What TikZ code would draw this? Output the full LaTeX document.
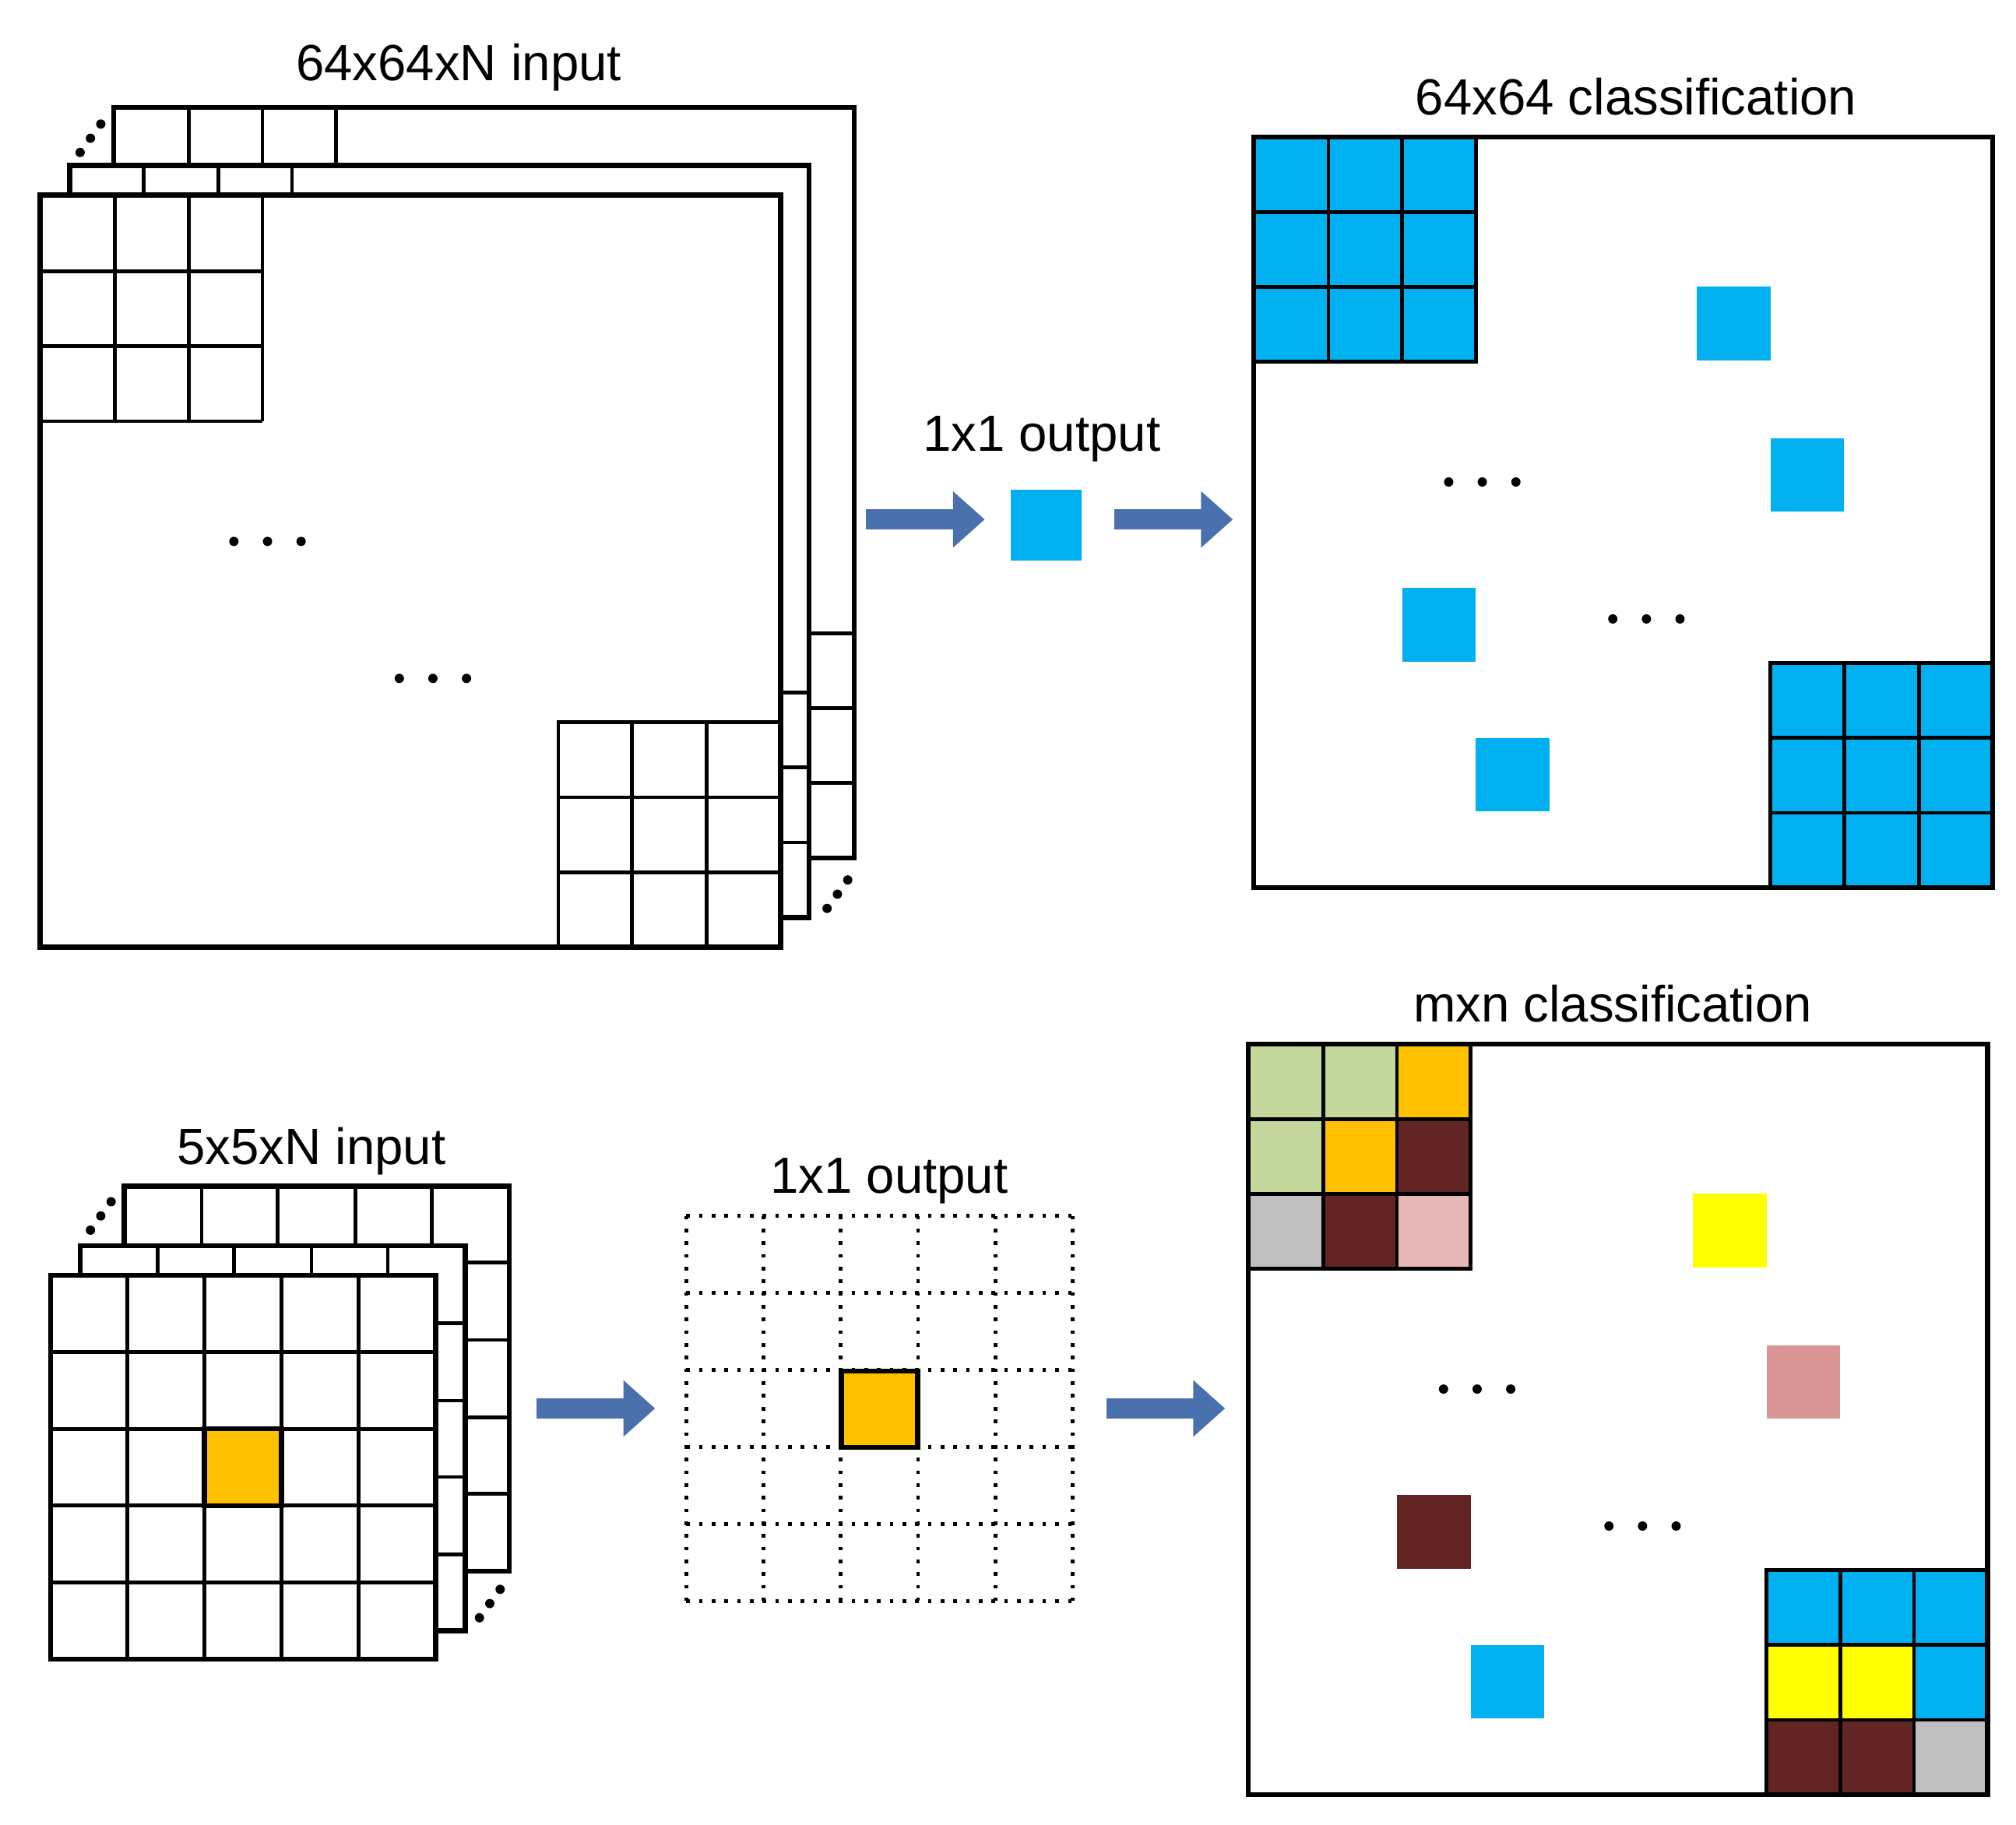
\documentclass[tikz,border=0pt]{standalone}
\usepackage{fontspec}
\setmainfont{Liberation Sans}
\usetikzlibrary{arrows.meta}
\definecolor{cyanbox}{HTML}{00B0F0}
\definecolor{orangebox}{HTML}{FFC000}
\definecolor{greenbox}{HTML}{C3D69B}
\definecolor{brownbox}{HTML}{632523}
\definecolor{graybox}{HTML}{BFBFBF}
\definecolor{pinkbox}{HTML}{E6B9B8}
\definecolor{rosebox}{HTML}{D99694}
\definecolor{yellowbox}{HTML}{FFFF00}
\definecolor{arrowblue}{HTML}{4A70AE}
\tikzset{
  sheet/.style={draw=black, fill=white, line width=1.1pt},
  cell/.style={draw=black, line width=0.8pt},
  dotcell/.style={draw=black, line width=0.8pt, dotted},
  fatarrow/.style={draw=arrowblue, line width=4.5pt, -{Triangle[length=7pt,width=12pt]}},
  lbl/.style={font=\fontsize{11.2}{13}\selectfont, inner sep=0pt}
}
% three dots, horizontal or diagonal
\newcommand{\rowdots}[2]{\foreach \k in {-1,0,1} \fill (#1+\k*26,#2) circle (3.6);}
\newcommand{\slantdots}[2]{\foreach \k in {-1,0,1} \fill (#1+\k*8,#2-\k*11) circle (3.6);}
% a filled cell: x, y, size, colour
\newcommand{\pix}[4]{\fill[#4] (#1,#2) rectangle ++(#3,#3);}
\begin{document}
\begin{tikzpicture}[x=0.01cm,y=-0.01cm]
\useasboundingbox (0,0) rectangle (1560,1412);

%% top left: 64x64xN input
\draw[sheet] (88,83) rectangle (661,664);
\foreach \x in {146,203,260} \draw[cell] (\x,83) -- (\x,128);
\foreach \y in {490,548,606} \draw[cell] (626,\y) -- (661,\y);
\draw[sheet] (54,128) rectangle (626,710);
\foreach \x in {111,169,226} \draw[cell] (\x,128) -- (\x,151);
\foreach \y in {536,594,652} \draw[cell] (604,\y) -- (626,\y);
\draw[sheet] (31,151) rectangle (604,733);
\draw[cell] (31,210) -- (203,210) (31,268) -- (203,268) (31,326) -- (203,326);
\foreach \x in {89,146,203} \draw[cell] (\x,151) -- (\x,326);
\draw[cell] (432,559) rectangle (604,733);
\foreach \x in {489,547} \draw[cell] (\x,559) -- (\x,733);
\foreach \y in {617,675} \draw[cell] (432,\y) -- (604,\y);
\slantdots{70}{107}
\slantdots{648}{692}
\rowdots{207}{419}
\rowdots{335}{525}
\node[lbl] (inA) at (355,52) {64x64xN input};

%% top middle: 1x1 output
\coordinate (a1s) at (670,402);
\coordinate (a1e) at (762,402);
\draw[fatarrow] (a1s) -- (a1e);
\pix{782}{379}{55}{cyanbox}
\node[lbl] (outA) at (806,340) {1x1 output};
\coordinate (a2s) at (862,402);
\coordinate (a2e) at (954,402);
\draw[fatarrow] (a2s) -- (a2e);

%% top right: 64x64 classification
\foreach \i in {0,1,2} \foreach \j in {0,1,2} {
  \pix{970+\i*57.3}{106+\j*58}{57.3}{cyanbox}
  \pix{1370+\i*57.3}{513+\j*58}{57.3}{cyanbox}
}
\draw[cell] (970,106) rectangle (1142,280);
\foreach \x in {1028,1085} \draw[cell] (\x,106) -- (\x,280);
\foreach \y in {164,222} \draw[cell] (970,\y) -- (1142,\y);
\draw[cell] (1370,513) rectangle (1542,687);
\foreach \x in {1427,1485} \draw[cell] (\x,513) -- (\x,687);
\foreach \y in {571,629} \draw[cell] (1370,\y) -- (1542,\y);
\pix{1313}{222}{57}{cyanbox}
\pix{1370}{339}{57}{cyanbox}
\pix{1085}{455}{57}{cyanbox}
\pix{1142}{571}{57}{cyanbox}
\draw[sheet, fill=none] (970,106) rectangle (1542,687);
\rowdots{1147}{373}
\rowdots{1274}{479}
\node[lbl] (clsA) at (1266,75) {64x64 classification};

%% bottom left: 5x5xN input
\draw[sheet] (96,918) rectangle (394,1216);
\foreach \x in {156,215,275,334} \draw[cell] (\x,918) -- (\x,964);
\foreach \y in {977,1037,1097,1156} \draw[cell] (360,\y) -- (394,\y);
\draw[sheet] (62,964) rectangle (360,1262);
\foreach \x in {122,181,241,300} \draw[cell] (\x,964) -- (\x,987);
\foreach \y in {1024,1084,1143,1203} \draw[cell] (337,\y) -- (360,\y);
\draw[sheet] (39,987) rectangle (337,1284);
\pix{158.2}{1106}{59.6}{orangebox}
\foreach \k in {1,2,3,4} {
  \draw[cell] (39+\k*59.6,987) -- (39+\k*59.6,1284);
  \draw[cell] (39,987+\k*59.4) -- (337,987+\k*59.4);
}
\draw[sheet, fill=none] (158.2,1105.8) rectangle ++(59.6,59.4);
\slantdots{78}{941}
\slantdots{379}{1241}
\node[lbl] (inB) at (241,891) {5x5xN input};

%% bottom middle: 1x1 output
\coordinate (b1s) at (415,1090);
\coordinate (b1e) at (507,1090);
\draw[fatarrow] (b1s) -- (b1e);
\foreach \k in {0,...,5} {
  \draw[dotcell] (531+\k*59.8,941) -- (531+\k*59.8,1239);
  \draw[dotcell] (531,941+\k*59.6) -- (830,941+\k*59.6);
}
\filldraw[orangebox, draw=black, line width=1.1pt] (651,1061) rectangle (710,1120);
\node[lbl] (outB) at (688,914) {1x1 output};
\coordinate (b2s) at (856,1090);
\coordinate (b2e) at (948,1090);
\draw[fatarrow] (b2s) -- (b2e);

%% bottom right: mxn classification
\pix{966}{808}{57.3}{greenbox}   \pix{1023.3}{808}{57.3}{greenbox}  \pix{1080.6}{808}{57.4}{orangebox}
\pix{966}{866}{57.3}{greenbox}   \pix{1023.3}{866}{57.3}{orangebox} \pix{1080.6}{866}{57.4}{brownbox}
\pix{966}{924}{57.3}{graybox}    \pix{1023.3}{924}{57.3}{brownbox}  \pix{1080.6}{924}{57.4}{pinkbox}
\pix{1367}{1215}{57.3}{cyanbox}  \pix{1424.3}{1215}{57.3}{cyanbox}   \pix{1481.6}{1215}{57.4}{cyanbox}
\pix{1367}{1273}{57.3}{yellowbox}\pix{1424.3}{1273}{57.3}{yellowbox} \pix{1481.6}{1273}{57.4}{cyanbox}
\pix{1367}{1331}{57.3}{brownbox} \pix{1424.3}{1331}{57.3}{brownbox}  \pix{1481.6}{1331}{57.4}{graybox}
\draw[cell] (966,808) rectangle (1138,982);
\foreach \x in {1024,1081} \draw[cell] (\x,808) -- (\x,982);
\foreach \y in {866,924} \draw[cell] (966,\y) -- (1138,\y);
\draw[cell] (1367,1215) rectangle (1538,1389);
\foreach \x in {1424,1481} \draw[cell] (\x,1215) -- (\x,1389);
\foreach \y in {1273,1331} \draw[cell] (1367,\y) -- (1538,\y);
\pix{1310}{924}{57}{yellowbox}
\pix{1367}{1041}{57}{rosebox}
\pix{1081}{1157}{57}{brownbox}
\pix{1138}{1273}{57}{cyanbox}
\draw[sheet, fill=none] (966,808) rectangle (1538,1389);
\rowdots{1143}{1075}
\rowdots{1271}{1181}
\node[lbl] (clsB) at (1248,777) {mxn classification};
\end{tikzpicture}
\end{document}
